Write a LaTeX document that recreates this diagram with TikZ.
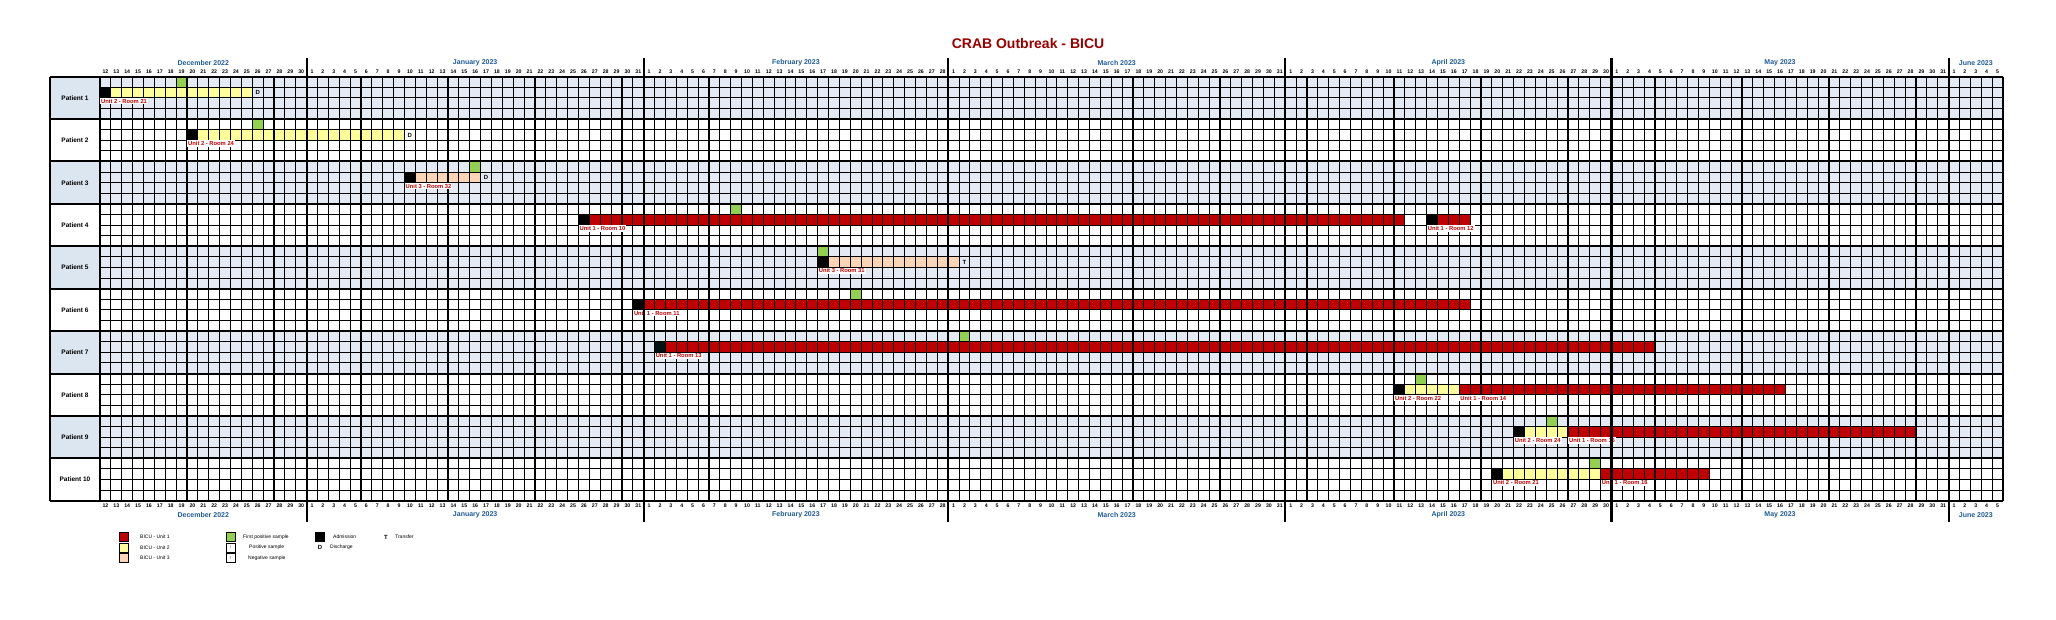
\documentclass[tikz,border=0pt]{standalone}
\usepackage{fontspec}
\setmainfont{Liberation Sans}
\definecolor{ured}{HTML}{C00000}
\definecolor{uyel}{HTML}{FFFF99}
\definecolor{uora}{HTML}{FCD5B4}
\definecolor{ugrn}{HTML}{92D050}
\definecolor{band}{HTML}{E3EAF4}
\definecolor{plab}{HTML}{DCE6F1}
\definecolor{mblue}{HTML}{1F5C99}
\definecolor{ttl}{HTML}{9B0000}
\newcommand\CW{10.874}
\newcommand\RH{10.6}
\newcommand\fillc[4]{\fill[#4] ({100+#2*\CW},{76.7+#1*\RH}) rectangle ({100+(#3+1)*\CW},{76.7+(#1+1)*\RH});}
\newcommand\letc[4]{\node[letter] (#4) at ({100+(#2+0.5)*\CW},{76.7+(#1+0.5)*\RH}) {#3};}
\newcommand\unitlab[4]{\node[ulab] (#4) at ({100+#2*\CW},{76.7+#1*\RH}) {#3};}
\begin{document}
\begin{tikzpicture}[x=1pt,y=-1pt,
  day/.style={font=\fontsize{5.2}{6}\selectfont\bfseries, inner sep=0pt},
  month/.style={font=\fontsize{7}{8}\selectfont\bfseries, text=mblue, inner sep=0pt},
  gridl/.style={line width=1.1pt, black},
  thickl/.style={line width=2pt, black},
  letter/.style={font=\fontsize{6}{7}\selectfont\bfseries, inner sep=0pt},
  ulab/.style={font=\fontsize{5.8}{7}\selectfont\bfseries, text=ured, fill=white, anchor=north west, inner sep=1pt},
  plabel/.style={font=\fontsize{6.5}{7}\selectfont\bfseries, inner sep=0pt},
  leg/.style={font=\fontsize{5}{6}\selectfont, inner sep=0pt, anchor=west},
  legbox/.style={draw=black, line width=1pt, minimum width=9pt, minimum height=9pt, inner sep=0pt}]
\useasboundingbox (0,0) rectangle (2056,620);
\fill[white] (0,0) rectangle (2056,620);
\node[font=\fontsize{14}{16}\selectfont\bfseries, text=ttl] (title) at (1028,43) {CRAB Outbreak - BICU};
% band fills
\foreach \p in {0,2,4,6,8} {
  \fill[band] (100,{76.7+\p*4*\RH}) rectangle (2003,{76.7+(\p*4+4)*\RH});
  \fill[plab] (50,{76.7+\p*4*\RH}) rectangle (100,{76.7+(\p*4+4)*\RH});
}
% patient labels
\foreach \p in {1,...,10} {
  \node[plabel] (pat\p) at (75,{76.7+(\p*4-2)*\RH}) {Patient \p};
}
% Patient 1
\fillc{1}{0}{0}{black}\fillc{1}{1}{13}{uyel}\letc{1}{14}{D}{d1}\fillc{0}{7}{7}{ugrn}
% Patient 2
\fillc{5}{8}{8}{black}\fillc{5}{9}{27}{uyel}\letc{5}{28}{D}{d2}\fillc{4}{14}{14}{ugrn}
% Patient 3
\fillc{9}{28}{28}{black}\fillc{9}{29}{34}{uora}\letc{9}{35}{D}{d3}\fillc{8}{34}{34}{ugrn}
% Patient 4
\fillc{13}{44}{44}{black}\fillc{13}{45}{119}{ured}\fillc{13}{122}{122}{black}\fillc{13}{123}{125}{ured}\fillc{12}{58}{58}{ugrn}
% Patient 5
\fillc{17}{66}{66}{black}\fillc{17}{67}{78}{uora}\letc{17}{79}{T}{t5}\fillc{16}{66}{66}{ugrn}
% Patient 6
\fillc{21}{49}{49}{black}\fillc{21}{50}{125}{ured}\fillc{20}{69}{69}{ugrn}
% Patient 7
\fillc{25}{51}{51}{black!85!teal}\fillc{25}{52}{142}{ured}\fillc{24}{79}{79}{ugrn}
% Patient 8
\fillc{29}{119}{119}{black}\fillc{29}{120}{124}{uyel}\fillc{29}{125}{154}{ured}\fillc{28}{121}{121}{ugrn}
% Patient 9
\fillc{33}{130}{130}{black}\fillc{33}{131}{134}{uyel}\fillc{33}{135}{166}{ured}\fillc{32}{133}{133}{ugrn}
% Patient 10
\fillc{37}{128}{128}{black}\fillc{37}{129}{137}{uyel}\fillc{37}{138}{147}{ured}\fillc{36}{137}{137}{ugrn}
% grid
\foreach \c in {0,...,175} \draw[gridl] ({100+\c*\CW},76.7) -- ({100+\c*\CW},500.7);
\foreach \r in {0,...,40} \draw[gridl] (100,{76.7+\r*\RH}) -- (2003,{76.7+\r*\RH});
\foreach \p in {0,...,10} \draw[thickl] (50,{76.7+\p*4*\RH}) -- (2003,{76.7+\p*4*\RH});
\draw[thickl] (50,76.7) -- (50,500.7);
\draw[thickl] (100,76.7) -- (100,500.7);
% unit labels on top of grid
\unitlab{2}{0}{Unit 2 - Room 21}{v1}
\unitlab{6}{8}{Unit 2 - Room 24}{v2}
\unitlab{10}{28}{Unit 3 - Room 32}{v3}
\unitlab{14}{44}{Unit 1 - Room 10}{v4a}\unitlab{14}{122}{Unit 1 - Room 12}{v4b}
\unitlab{18}{66}{Unit 3 - Room 31}{v5}
\unitlab{22}{49}{Unit 1 - Room 11}{v6}
\unitlab{26}{51}{Unit 1 - Room 13}{v7}
\unitlab{30}{119}{Unit 2 - Room 22}{v8a}\unitlab{30}{125}{Unit 1 - Room 14}{v8b}
\unitlab{34}{130}{Unit 2 - Room 24}{v9a}\unitlab{34}{135}{Unit 1 - Room 15}{v9b}
\unitlab{38}{128}{Unit 2 - Room 21}{v10a}\unitlab{38}{138}{Unit 1 - Room 16}{v10b}
% month separators
\foreach \c in {19,50,78,109,139,170} \draw[line width=2.2pt] ({100+\c*\CW},58) -- ({100+\c*\CW},522);
% day numbers
\foreach \m/\s/\nn in {0/12/19, 19/1/31, 50/1/28, 78/1/31, 109/1/30, 139/1/31, 170/1/5} {
  \foreach \k in {1,...,\nn} {
    \pgfmathtruncatemacro\dd{\s+\k-1}
    \node[day] (dt\m-\k) at ({100+(\m+\k-0.5)*\CW},72) {\dd};
    \node[day] (db\m-\k) at ({100+(\m+\k-0.5)*\CW},506) {\dd};
  }
}
% month labels
\foreach \mc/\ml [count=\i] in {9.5/December 2022, 34.5/January 2023, 64/February 2023, 93.5/March 2023, 124/April 2023, 154.5/May 2023, 172.5/June 2023} {
  \node[month] (mt\i) at ({100+\mc*\CW},63) {\ml};
  \node[month] (mb\i) at ({100+\mc*\CW},515) {\ml};
}
% legend
\node[legbox, fill=ured] (l1) at (124,537) {};
\node[leg] (l1t) at (140,537) {BICU - Unit 1};
\node[legbox, fill=uyel] (l2) at (124,547.5) {};
\node[leg] (l2t) at (140,547.5) {BICU - Unit 2};
\node[legbox, fill=uora] (l3) at (124,558) {};
\node[leg] (l3t) at (140,558) {BICU - Unit 3};
\node[legbox, fill=ugrn] (l4) at (231,537) {};
\node[leg] (l4t) at (243,537) {First positive sample};
\node[legbox, fill=white, font=\fontsize{4}{5}\selectfont, text=ured] (l5) at (231,547.5) {!};
\node[leg] (l5t) at (249,547.5) {Positive sample};
\node[legbox, fill=white, font=\fontsize{4}{5}\selectfont] (l6) at (231,558) {!};
\node[leg] (l6t) at (248,558) {Negative sample};
\node[legbox, fill=black] (l7) at (320,537) {};
\node[leg] (l7t) at (333,537) {Admission};
\node[letter] (l8) at (320,547.5) {D};
\node[leg] (l8t) at (330,547.5) {Discharge};
\node[letter] (l9) at (386,537) {T};
\node[leg] (l9t) at (395,537) {Transfer};
\end{tikzpicture}
\end{document}
